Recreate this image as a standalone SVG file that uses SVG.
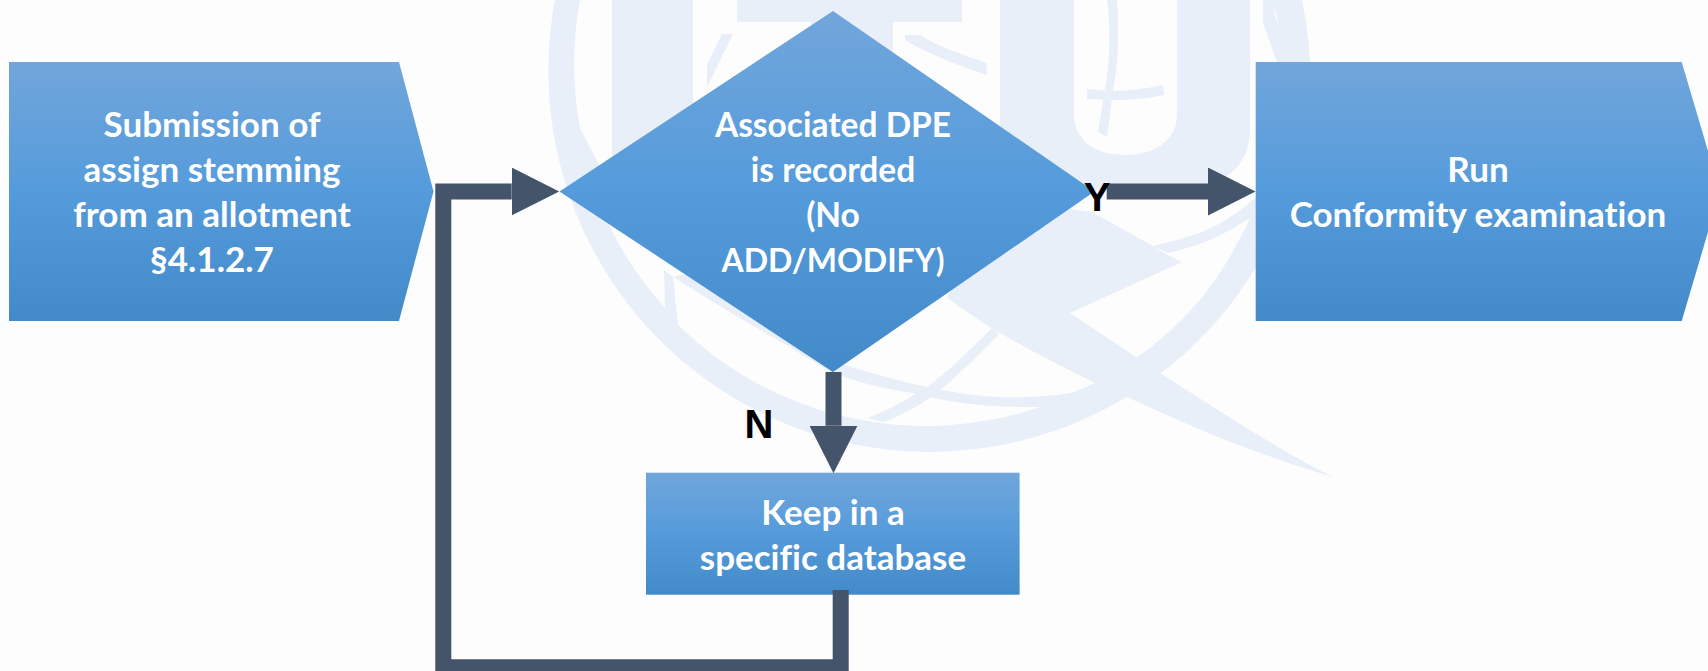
<svg xmlns="http://www.w3.org/2000/svg" width="1708" height="671" viewBox="0 0 1708 671">
<style>
.wm{fill:#E8EFF9}
.n{fill:url(#g)}
.t{font-family:Lato,"Liberation Sans",sans-serif;font-weight:700;font-size:35px;fill:#FFFFFF;text-anchor:middle;font-variant-ligatures:none}
.d{font-size:33.5px}
.e{font-size:32px}
.l{font-family:"Liberation Sans",Arial,sans-serif;font-weight:700;font-size:40px;fill:#000000;text-anchor:middle}
.c{fill:none;stroke:#44546A;stroke-width:16;marker-end:url(#a)}
</style>
<defs>
<linearGradient id="g" x1="0" y1="0" x2="0" y2="1">
<stop offset="0" stop-color="#71A6DB"/>
<stop offset="0.5" stop-color="#559BDB"/>
<stop offset="1" stop-color="#438AC9"/>
</linearGradient>
<marker id="a" markerUnits="userSpaceOnUse" markerWidth="48" markerHeight="48" refX="0" refY="24" orient="auto">
<path d="M0,0 L47.5,24 L0,48 Z" fill="#44546A"/>
</marker>
</defs>
<rect width="1708" height="671" fill="#FDFDFD"/>
<g id="watermark">
<path class="wm" d="M555,0 A381,381 0 0 0 1256,267 L1256,212 L1250,218 C1235,250 1220,275 1200,300 C1180,322 1160,342 1137,357 L1095,383 L1040,407 A354,354 0 0 1 678,325 L673,277 L664,270 L665,308 A354,354 0 0 1 610,227 L598,163 L580,128 A354,354 0 0 1 580,0 Z"/>
<path class="wm" d="M673,277 C710,300 750,325 790,347 C805,357 820,365 833,373 C860,383 885,389 913,393 C950,403 990,408 1040,407 L1082,391 C1055,396 1030,398 1000,397 C975,396 950,392 927,387 C900,381 870,373 845,365 L700,270 Z"/>
<path class="wm" d="M992,328 C970,350 950,370 927,387 C917,393 908,399 900,403 C890,409 878,414 867,418 L883,422 C890,420 895,418 900,415 C915,408 928,400 940,390 C960,374 980,353 999,334 Z"/>
<path class="wm" d="M1333,477 C1270,445 1215,408 1160,373 L1070,313 L1182,262 L1168,255 L1153,246 L1092,212 L1000,200 L947,298 C965,310 982,323 1000,333 C1030,350 1062,367 1095,383 L1127,397 C1160,412 1195,428 1233,443 C1265,455 1300,467 1333,477 Z"/>
<path class="wm" d="M1153,246 C1170,242 1185,238 1200,233 C1220,225 1240,212 1256,197 L1256,212 L1250,218 C1237,226 1224,234 1210,240 C1197,245 1182,250 1168,253 Z"/>
<path class="wm" fill-rule="evenodd" d="M1263,0 L1263,23 L1277,62 L1310,62 C1309,40 1306,20 1302,0 Z M1273,6 L1279,23 L1275,17 Z"/>
<path class="wm" d="M1000,0 L1074,0 L1074,115 C1074,140 1095,155 1125,155 C1155,155 1177,140 1177,115 L1177,0 L1250,0 L1250,130 C1250,165 1225,185 1190,190 L1000,190 Z"/>
<path class="wm" d="M1107,0 L1117,0 C1119,30 1119,60 1113,90 L1107,137 L1098,132 L1105,90 C1110,60 1111,30 1107,0 Z"/>
<path class="wm" d="M1087,89 L1107,91 C1125,91 1145,89 1163,85 L1164,95 C1147,99 1130,100 1113,100 L1087,99 Z"/>
<rect class="wm" x="612" y="0" width="81" height="200"/>
<path class="wm" d="M737,0 H962 V22 H893 V100 H811 V22 H737 Z"/>
<path class="wm" d="M722,34 L733,34 L707,87 L707,65 Z"/>
<path class="wm" d="M905,35 L920,35 C940,48 965,55 986.5,63 L986.5,75 C958,65 930,55 905,40 Z"/>
</g>
<g id="submission">
<path class="n" d="M9,62 H399 L433.5,191.5 L399,321 H9 Z"/>
<text class="t" x="212" y="137">Submission of</text>
<text class="t" x="212" y="182">assign stemming</text>
<text class="t" x="212" y="227">from an allotment</text>
<text class="t" x="212" y="272">§4.1.2.7</text>
</g>
<g id="decision">
<path class="n" d="M833,11 L1094.5,191.5 L833,372 L559.5,191.5 Z"/>
<text class="t d" x="833" y="137">Associated DPE</text>
<text class="t d" x="833" y="182">is recorded</text>
<text class="t d" x="833" y="227">(No</text>
<text class="t e" x="833" y="272">ADD/MODIFY)</text>
</g>
<g id="conformity">
<path class="n" d="M1255.7,62 H1681.7 L1720,191.5 L1681.7,321 H1255.7 Z"/>
<text class="t" x="1478" y="182">Run</text>
<text class="t" x="1478" y="227">Conformity examination</text>
</g>
<g id="database">
<rect class="n" x="646" y="472.7" width="373.6" height="122"/>
<text class="t" x="833" y="524.5">Keep in a</text>
<text class="t" x="833" y="569.5">specific database</text>
</g>
<g id="connectors">
<path class="c" d="M840.7,590 V667.3 H443.3 V191.5 H511.7"/>
<path class="c" d="M1106.7,191.5 H1208"/>
<path class="c" d="M833.5,372 V425.7"/>
</g>
<text class="l" x="1097" y="210.7">Y</text>
<text class="l" x="759" y="437.7">N</text>
</svg>
